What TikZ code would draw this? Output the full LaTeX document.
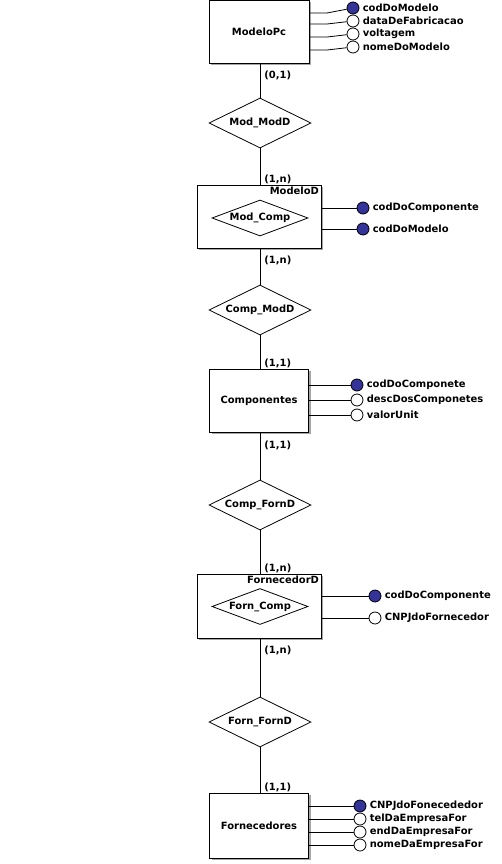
\documentclass[tikz,border=0pt]{standalone}
\usepackage{fontspec}
\setmainfont{DejaVu Sans}
\usetikzlibrary{shapes.geometric,shadows}

\definecolor{chave}{RGB}{51,51,153}

\begin{document}
\begin{tikzpicture}[x=1bp,y=-1bp,line width=0.8bp,
  every node/.style={font=\bfseries\fontsize{10}{12}\selectfont},
  entidade/.style={draw,fill=white,inner sep=0pt,
    drop shadow={shadow xshift=2bp,shadow yshift=-2bp,fill=gray!70,opacity=1}},
  relac/.style={draw,diamond,aspect=2.04,inner sep=0pt,minimum width=102bp,minimum height=50bp},
  relint/.style={draw,diamond,aspect=2.67,inner sep=0pt,minimum width=96bp,minimum height=36bp},
  atrib/.style={draw,circle,inner sep=0pt,minimum size=12bp},
  rotulo/.style={anchor=west,inner sep=1bp,xshift=2bp},
  card/.style={anchor=west,inner sep=1bp}]
  \useasboundingbox (0,0) rectangle (502,864);

  % entidades
  \node[entidade,minimum width=100bp,minimum height=63bp] (mpc) at (259,31.5) {ModeloPc};
  \node[entidade,minimum width=124bp,minimum height=63bp] (modd) at (259,216.5) {};
  \node[entidade,minimum width=99bp,minimum height=63bp] (comp) at (259,400.5) {Componentes};
  \node[entidade,minimum width=124bp,minimum height=64bp] (fornd) at (259,606) {};
  \node[entidade,minimum width=99bp,minimum height=65bp] (forn) at (259,825.5) {Fornecedores};
  \node[anchor=north east,inner sep=2bp] (moddt) at (modd.north east) {ModeloD};
  \node[anchor=north east,inner sep=2bp] (forndt) at (fornd.north east) {FornecedorD};

  % relacionamentos
  \node[relac] (r1) at (260,123) {Mod\_ModD};
  \node[relint] (r2) at (260,218) {Mod\_Comp};
  \node[relac] (r3) at (260,310) {Comp\_ModD};
  \node[relac] (r4) at (260,505) {Comp\_FornD};
  \node[relint] (r5) at (260,606.5) {Forn\_Comp};
  \node[relac] (r6) at (260,722) {Forn\_FornD};

  \draw (mpc.south -| r1.north) -- (r1.north);
  \draw (r1.south) -- (modd.north -| r1.south);
  \draw (modd.south -| r3.north) -- (r3.north);
  \draw (r3.south) -- (comp.north -| r3.south);
  \draw (comp.south -| r4.north) -- (r4.north);
  \draw (r4.south) -- (fornd.north -| r4.south);
  \draw (fornd.south -| r6.north) -- (r6.north);
  \draw (r6.south) -- (forn.north -| r6.south);

  % cardinalidades
  \node[card] (c1) at (263,75) {(0,1)};
  \node[card] (c2) at (263,179) {(1,n)};
  \node[card] (c3) at (263,260) {(1,n)};
  \node[card] (c4) at (263,363) {(1,1)};
  \node[card] (c5) at (263,445) {(1,1)};
  \node[card] (c6) at (263,568) {(1,n)};
  \node[card] (c7) at (263,650) {(1,n)};
  \node[card] (c8) at (263,787) {(1,1)};

  % atributos
  \foreach \ly/\cy/\nome/\cor [count=\i] in {13/8/codDoModelo/chave,24/21/dataDeFabricacao/white,
      37/34/voltagem/white,50/47/nomeDoModelo/white} {
    \node[atrib,fill=\cor] (mpc-a\i) at (353,\cy) {};
    \node[rotulo] (mpc-t\i) at (mpc-a\i.east) {\nome};
    \draw (mpc.east |- 0,\ly) -- (327,\ly) -- (mpc-a\i);
  }
  \foreach \cy/\nome [count=\i] in {208/codDoComponente,229/codDoModelo} {
    \node[atrib,fill=chave] (modd-a\i) at (363,\cy) {};
    \node[rotulo] (modd-t\i) at (modd-a\i.east) {\nome};
    \draw (modd.east |- modd-a\i) -- (modd-a\i);
  }
  \foreach \cy/\nome/\cor [count=\i] in {385/codDoComponete/chave,400/descDosComponetes/white,
      415/valorUnit/white} {
    \node[atrib,fill=\cor] (comp-a\i) at (357,\cy) {};
    \node[rotulo] (comp-t\i) at (comp-a\i.east) {\nome};
    \draw (comp.east |- comp-a\i) -- (comp-a\i);
  }
  \foreach \cy/\nome/\cor [count=\i] in {596/codDoComponente/chave,618/CNPJdoFornecedor/white} {
    \node[atrib,fill=\cor] (fornd-a\i) at (375,\cy) {};
    \node[rotulo] (fornd-t\i) at (fornd-a\i.east) {\nome};
    \draw (fornd.east |- fornd-a\i) -- (fornd-a\i);
  }
  \foreach \cy/\nome/\cor [count=\i] in {806/CNPJdoFonecededor/chave,819/telDaEmpresaFor/white,
      832/endDaEmpresaFor/white,845/nomeDaEmpresaFor/white} {
    \node[atrib,fill=\cor] (forn-a\i) at (360,\cy) {};
    \node[rotulo] (forn-t\i) at (forn-a\i.east) {\nome};
    \draw (forn.east |- forn-a\i) -- (forn-a\i);
  }
\end{tikzpicture}
\end{document}
